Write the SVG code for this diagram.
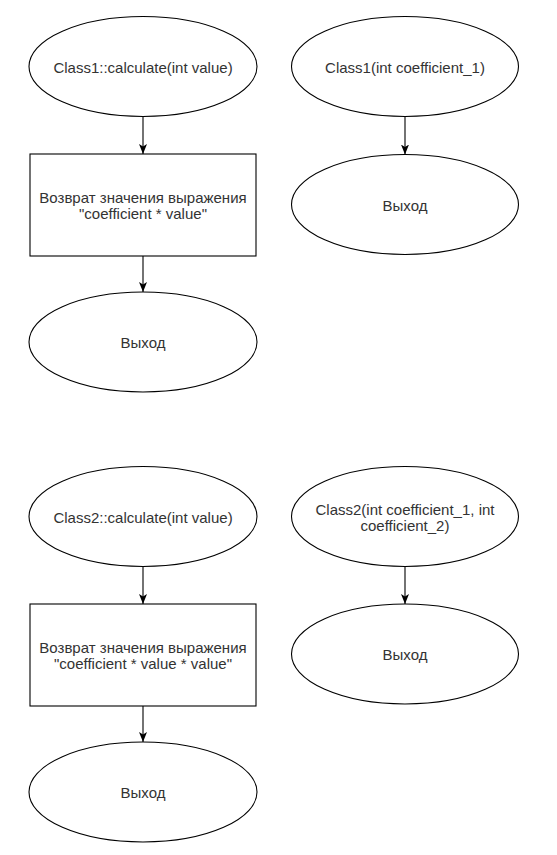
<svg xmlns="http://www.w3.org/2000/svg" width="557" height="855" viewBox="0 0 557 855">
  <style>
    .shape { fill: #ffffff; stroke: #000000; stroke-width: 1.1; }
    .lbl { font-family: "Liberation Sans", Arial, sans-serif; font-size: 15px; fill: #333333; text-anchor: middle; }
    .edge { fill: none; stroke: #000000; stroke-width: 1.1; marker-end: url(#arrow); }
  </style>
  <defs>
    <marker id="arrow" viewBox="0 0 10 8" refX="10" refY="4" markerWidth="10" markerHeight="8" markerUnits="userSpaceOnUse" orient="auto">
      <path d="M0,0 L10,4 L0,8 L2.5,4 z" fill="#000000"/>
    </marker>
  </defs>
  <rect x="0" y="0" width="557" height="855" fill="#ffffff"/>

  <g id="connectors">
    <path class="edge" d="M143,116.5 L143,154"/>
    <path class="edge" d="M143,256 L143,292"/>
    <path class="edge" d="M405,116.5 L405,154.5"/>
    <path class="edge" d="M143,566.5 L143,604"/>
    <path class="edge" d="M143,706 L143,742"/>
    <path class="edge" d="M405,566.5 L405,604"/>
  </g>

  <g id="n1">
    <ellipse class="shape" cx="143" cy="66.5" rx="114" ry="50"/>
    <text class="lbl" x="143" y="72.5">Class1::calculate(int value)</text>
  </g>
  <g id="n2">
    <rect class="shape" x="30" y="154" width="226" height="102"/>
    <text class="lbl" x="143" y="203">Возврат значения выражения</text>
    <text class="lbl" x="143" y="219">"coefficient * value"</text>
  </g>
  <g id="n3">
    <ellipse class="shape" cx="143" cy="342" rx="114" ry="50"/>
    <text class="lbl" x="143" y="348">Выход</text>
  </g>
  <g id="n4">
    <ellipse class="shape" cx="405" cy="66.5" rx="113.5" ry="50"/>
    <text class="lbl" x="405" y="72.5">Class1(int coefficient_1)</text>
  </g>
  <g id="n5">
    <ellipse class="shape" cx="405" cy="204.5" rx="113.5" ry="50"/>
    <text class="lbl" x="405" y="210.5">Выход</text>
  </g>

  <g id="n6">
    <ellipse class="shape" cx="143" cy="516.5" rx="114" ry="50"/>
    <text class="lbl" x="143" y="522.5">Class2::calculate(int value)</text>
  </g>
  <g id="n7">
    <rect class="shape" x="30" y="604" width="226" height="102"/>
    <text class="lbl" x="143" y="653">Возврат значения выражения</text>
    <text class="lbl" x="143" y="669">"coefficient * value * value"</text>
  </g>
  <g id="n8">
    <ellipse class="shape" cx="143" cy="792" rx="114" ry="50"/>
    <text class="lbl" x="143" y="798">Выход</text>
  </g>
  <g id="n9">
    <ellipse class="shape" cx="405" cy="516.5" rx="113.5" ry="50"/>
    <text class="lbl" x="405" y="514.5">Class2(int coefficient_1, int</text>
    <text class="lbl" x="405" y="530.5">coefficient_2)</text>
  </g>
  <g id="n10">
    <ellipse class="shape" cx="405" cy="654" rx="113.5" ry="50"/>
    <text class="lbl" x="405" y="660">Выход</text>
  </g>
</svg>
